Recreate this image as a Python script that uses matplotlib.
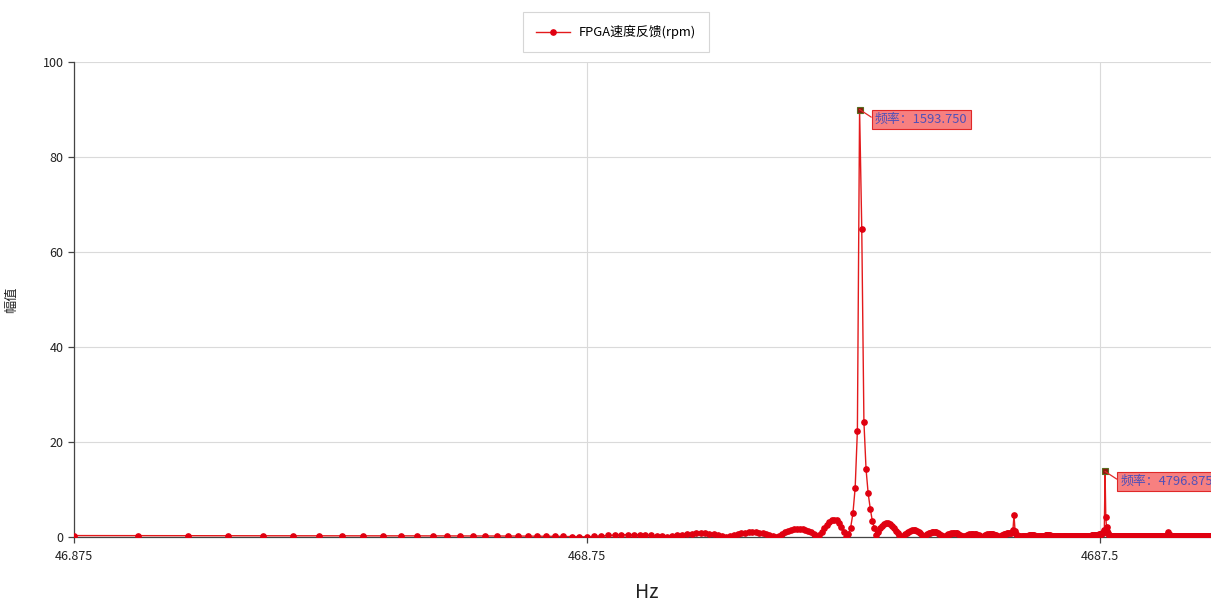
import numpy as np
import matplotlib
matplotlib.use("Agg")
import matplotlib.pyplot as plt

plt.rcParams['font.family'] = ['Noto Sans CJK SC', 'DejaVu Sans']

# FFT bin width (Hz); each segment below starts at the given bin index
BIN_HZ = 15.625

seg_low = [0.3, 0.28, 0.27, 0.27, 0.26, 0.26, 0.25, 0.25, 0.25, 0.24, 0.24, 0.24, 0.23, 0.23,
           0.23, 0.22, 0.22, 0.21, 0.21, 0.2, 0.19, 0.18, 0.16, 0.14, 0.12, 0.09, 0.06]          # bins 3-29
seg_lobe1 = [0.03, 0.12, 0.22, 0.32, 0.4, 0.46, 0.5, 0.5, 0.48, 0.42, 0.34, 0.24, 0.13, 0.03]    # bins 30-43
seg_lobe2 = [0.15, 0.32, 0.48, 0.6, 0.7, 0.76, 0.78, 0.75, 0.68, 0.56, 0.4, 0.23, 0.05]          # bins 44-56
seg_lobe3 = [0.2, 0.42, 0.62, 0.78, 0.9, 0.98, 1.02, 1.0, 0.93, 0.8, 0.62, 0.42, 0.22, 0.04]     # bins 57-70
seg_lobe4 = [0.3, 0.65, 0.98, 1.26, 1.48, 1.64, 1.74, 1.78, 1.72, 1.56, 1.3, 0.96, 0.55, 0.1]    # bins 71-84
seg_lobe5 = [0.4, 1.1, 1.9, 2.6, 3.1, 3.5, 3.6, 3.5, 3.0, 2.2, 1.1, 0.1]                         # bins 85-96
seg_main = [0.6, 2.0, 5.0, 10.4, 22.4, 90.0, 64.9, 24.3, 14.3, 9.2, 6.0, 3.4, 1.9, 0.4]          # bins 97-110
seg_lobe6 = [1.0, 1.8, 2.4, 2.8, 2.95, 2.9, 2.7, 2.3, 1.8, 1.3, 0.8, 0.35, 0.05]                 # bins 111-123
seg_lobe7 = [0.3, 0.6, 0.9, 1.15, 1.35, 1.45, 1.5, 1.45, 1.3, 1.05, 0.75, 0.4, 0.05]             # bins 124-136
seg_lobe8 = [0.3, 0.55, 0.75, 0.9, 1.0, 1.05, 1.05, 0.95, 0.8, 0.6, 0.4, 0.2, 0.05]              # bins 137-149
seg_lobe9 = [0.25, 0.45, 0.6, 0.72, 0.8, 0.84, 0.85, 0.82, 0.74, 0.62, 0.47, 0.3, 0.14, 0.04]    # bins 150-163
seg_lobe10 = [0.2, 0.36, 0.5, 0.6, 0.68, 0.72, 0.72, 0.68, 0.6, 0.48, 0.35, 0.2, 0.08, 0.04]     # bins 164-177
seg_lobe11 = [0.18, 0.32, 0.45, 0.55, 0.62, 0.66, 0.66, 0.62, 0.55, 0.45, 0.33, 0.2, 0.1, 0.05]  # bins 178-191
seg_rise = [0.2, 0.35, 0.48, 0.58, 0.65, 0.7, 0.74, 0.78, 0.82, 0.9, 1.05, 1.4]                 # bins 192-203
seg_h2 = [4.6, 1.2, 0.6, 0.35, 0.28, 0.25, 0.24, 0.24]                                          # bins 204-211
seg_mid = [0.24, 0.23, 0.24, 0.25, 0.26, 0.28, 0.32, 0.38, 0.44, 0.5, 0.46, 0.36, 0.3, 0.26, 0.24, 0.23, 0.22, 0.22, 0.23, 0.24,
           0.25, 0.27, 0.3, 0.35, 0.42, 0.48, 0.52, 0.46, 0.38, 0.3, 0.26, 0.24, 0.23, 0.22, 0.22, 0.21, 0.21, 0.22, 0.22, 0.23,
           0.23, 0.24, 0.24, 0.25, 0.25, 0.24, 0.24, 0.23, 0.23, 0.22, 0.22, 0.22, 0.23, 0.23, 0.24, 0.24, 0.25, 0.25, 0.26, 0.26,
           0.26, 0.27, 0.27, 0.27, 0.28, 0.28, 0.28, 0.29, 0.29, 0.29, 0.3, 0.3, 0.3, 0.3, 0.31, 0.31, 0.31, 0.32, 0.32]  # bins 212-290
seg_ramp = [0.3, 0.32, 0.35, 0.38, 0.4, 0.42, 0.45, 0.5, 0.55, 0.6, 0.65, 0.7, 0.78, 0.85, 1.0, 1.5]  # bins 291-306
seg_h3 = [13.8, 4.3, 2.1, 1.2, 0.8, 0.5, 0.35]                                                  # bins 307-313
seg_high = [0.3, 0.28, 0.27, 0.26, 0.26, 0.25, 0.25, 0.25, 0.24, 0.24, 0.24, 0.24, 0.23, 0.23, 0.23, 0.23, 0.23, 0.22, 0.22, 0.22,
            0.22, 0.22, 0.22, 0.22, 0.21, 0.21, 0.21, 0.21, 0.21, 0.21, 0.21, 0.21, 0.2, 0.2, 0.2, 0.2, 0.2, 0.2, 0.2, 0.2,
            0.2, 0.2, 0.2, 0.2, 0.2, 0.21, 0.21, 0.21, 0.21, 0.21, 0.21, 0.22, 0.22, 0.22, 0.22, 0.23, 0.23, 0.23, 0.24, 0.24,
            0.24, 0.24, 0.25, 0.25, 0.25, 0.25, 0.25, 0.26, 0.26, 0.26, 0.26, 0.26, 0.27, 0.27, 0.27, 0.27, 0.27, 0.28, 0.28, 0.28,
            0.28, 0.28, 0.29, 0.29, 0.29, 0.29, 0.3, 0.3, 0.3, 0.31, 0.31, 0.32, 0.36, 0.5, 1.1, 0.5, 0.36, 0.32, 0.3, 0.29,
            0.28, 0.27, 0.26, 0.26, 0.25, 0.25, 0.24, 0.24, 0.23, 0.23, 0.23, 0.22, 0.22, 0.22, 0.21, 0.21, 0.21, 0.2, 0.2, 0.2,
            0.2, 0.19, 0.19, 0.19, 0.19, 0.18, 0.18, 0.18, 0.18, 0.18, 0.17, 0.17, 0.17, 0.17, 0.17, 0.17, 0.16, 0.16, 0.16, 0.16,
            0.16, 0.16, 0.16, 0.16, 0.15, 0.15, 0.15, 0.15, 0.15, 0.15, 0.15, 0.15, 0.15, 0.14, 0.14, 0.14, 0.14, 0.14, 0.14, 0.14,
            0.14, 0.14, 0.14, 0.14, 0.14, 0.13, 0.13, 0.13, 0.13, 0.13, 0.13, 0.13, 0.13, 0.13, 0.13, 0.13, 0.13, 0.13, 0.12, 0.12,
            0.12, 0.12, 0.12, 0.12, 0.12, 0.12, 0.12, 0.12, 0.12, 0.12, 0.12, 0.12, 0.12, 0.12, 0.12, 0.12, 0.12, 0.12, 0.12]  # bins 314-512

segments = [(3, seg_low), (30, seg_lobe1), (44, seg_lobe2), (57, seg_lobe3), (71, seg_lobe4),
            (85, seg_lobe5), (97, seg_main), (111, seg_lobe6), (124, seg_lobe7), (137, seg_lobe8),
            (150, seg_lobe9), (164, seg_lobe10), (178, seg_lobe11), (192, seg_rise), (204, seg_h2),
            (212, seg_mid), (291, seg_ramp), (307, seg_h3), (314, seg_high)]

x_ticks = [46.875, 468.75, 4687.5]
x_tick_labels = ["46.875", "468.75", "4687.5"]
y_ticks = [0, 20, 40, 60, 80, 100]
series_name = "FPGA速度反馈(rpm)"

freq = np.concatenate([(start + np.arange(len(vals))) * BIN_HZ for start, vals in segments])
amp = np.concatenate([np.asarray(vals, dtype=float) for _, vals in segments])

W, H = 1211, 604
fig = plt.figure(figsize=(W / 100, H / 100), dpi=100)
ax_left, ax_right = 74, 1219
ax = fig.add_axes([ax_left / W, (H - 537) / H, (ax_right - ax_left) / W, 475 / H])

line_red = '#E31A1C'
ax.plot(freq, amp, color=line_red, lw=1.0, marker='o', ms=3.8,
        markerfacecolor='#E00010', markeredgecolor='#E00010', label=series_name, zorder=3)

ax.set_xscale('log')
ax.set_xlim(46.875, 8000)
ax.set_ylim(0, 100)
ax.set_xticks(x_ticks)
ax.set_xticklabels(x_tick_labels)
ax.xaxis.set_minor_locator(matplotlib.ticker.NullLocator())
ax.set_yticks(y_ticks)

ax.grid(True, color='#DADADA', lw=0.8)
ax.set_axisbelow(True)
for side in ('top', 'right'):
    ax.spines[side].set_visible(False)
for side in ('left', 'bottom'):
    ax.spines[side].set_color('#444444')
    ax.spines[side].set_linewidth(0.9)
ax.tick_params(axis='both', colors='#444444', labelcolor='#222222', labelsize=9,
               length=4, width=0.9, direction='out')
ax.tick_params(axis='x', pad=5)

ax.set_xlabel('Hz', fontsize=14, color='#222222', labelpad=14)
ax.set_ylabel('幅值', fontsize=9.5, color='#222222')
ax.yaxis.set_label_coords((18 - ax_left) / (ax_right - ax_left), 0.5)

# label the two largest peaks with their frequency
peak_idx = [int(np.argmax(amp))]
mask = freq > 4000
peak_idx.append(int(np.where(mask)[0][np.argmax(amp[mask])]))
for i in peak_idx:
    ax.plot(freq[i], amp[i], marker='s', ms=4.5, markerfacecolor='#8B1A10',
            markeredgecolor='#5A6B20', markeredgewidth=0.8, zorder=5, clip_on=False)
    ax.annotate(f"频率：{freq[i]:.3f}", xy=(freq[i], amp[i]), xytext=(11, -7.2),
                textcoords='offset points', ha='left', va='center', fontsize=9.3,
                color='#5050B8', zorder=6,
                bbox=dict(boxstyle='square,pad=0.25', fc='#F78080', ec='#E02828', lw=0.8),
                arrowprops=dict(arrowstyle='-', color='#E02828', lw=0.9,
                                shrinkA=0, shrinkB=0, relpos=(0.0, 0.5)))

leg = fig.legend(loc='center', bbox_to_anchor=(616 / W, 1 - 32 / H), frameon=True,
                 fancybox=False, fontsize=9.3, handlelength=2.6, borderpad=1.0,
                 handletextpad=0.7, borderaxespad=0)
leg.get_frame().set_edgecolor('#CCCCCC')
leg.get_frame().set_linewidth(0.8)

fig.savefig('out.png', dpi=100)
